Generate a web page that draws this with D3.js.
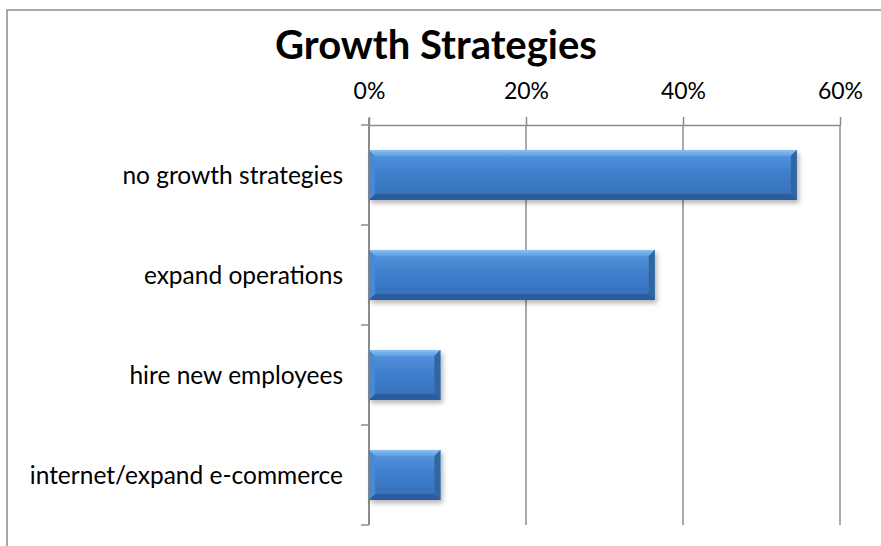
<!DOCTYPE html>
<html>
<head>
<meta charset="utf-8">
<script src="https://cdn.jsdelivr.net/npm/d3@7"></script>
<style>
  html, body { margin: 0; padding: 0; background: #fff; }
  svg { display: block; }
</style>
</head>
<body>
<svg id="chart" width="881" height="546"></svg>
<script>
// Survey results: share of respondents by growth strategy
const categories = ["no growth strategies", "expand operations", "hire new employees", "internet/expand e-commerce"];
const shares = [0.545, 0.364, 0.091, 0.091];
const tickValues = [0, 0.2, 0.4, 0.6];
const chartTitle = "Growth Strategies";

const svg = d3.select("#chart");
const font = "Lato, 'Open Sans', sans-serif";
const axisColor = "#8c8c8c";

// outer frame
svg.append("rect")
  .attr("x", 7).attr("y", 10)
  .attr("width", 900).attr("height", 600)
  .attr("fill", "none").attr("stroke", "#8c8c8c").attr("stroke-width", 1.5);

const x = d3.scaleLinear().domain([0, 0.6]).range([369, 840]);
const y = d3.scaleBand().domain(categories).range([125, 525])
  .paddingInner(0.5).paddingOuter(0.25);

// gradients and shadow for the bevelled bars
const defs = svg.append("defs");
const g1 = defs.append("linearGradient").attr("id", "barFill")
  .attr("x1", 0).attr("y1", 0).attr("x2", 0).attr("y2", 1);
[["0%", "#5a98e0"], ["45%", "#3f7fcc"], ["100%", "#356fb8"]]
  .forEach(([o, c]) => g1.append("stop").attr("offset", o).attr("stop-color", c));
const gTop = defs.append("linearGradient").attr("id", "bevelTop")
  .attr("x1", 0).attr("y1", 0).attr("x2", 0).attr("y2", 1);
[["0%", "#8cc2f4"], ["100%", "#5d9de3"]]
  .forEach(([o, c]) => gTop.append("stop").attr("offset", o).attr("stop-color", c));
const f = defs.append("filter").attr("id", "shadow")
  .attr("x", "-10%").attr("y", "-20%").attr("width", "130%").attr("height", "160%");
f.append("feDropShadow").attr("dx", 2).attr("dy", 3).attr("stdDeviation", 2.5)
  .attr("flood-color", "#000").attr("flood-opacity", 0.3);

// vertical gridlines
svg.append("g").selectAll("line")
  .data(tickValues.slice(1))
  .join("line")
  .attr("x1", d => x(d)).attr("x2", d => x(d))
  .attr("y1", 125).attr("y2", 525)
  .attr("stroke", axisColor).attr("stroke-width", 1.5);

// top value axis
const xAxis = svg.append("g")
  .attr("transform", "translate(0,125)")
  .call(d3.axisTop(x).tickValues(tickValues).tickFormat(d3.format(".0%"))
    .tickSize(8).tickSizeOuter(0).tickPadding(18));
xAxis.select(".domain").attr("stroke", axisColor).attr("stroke-width", 1.5);
xAxis.selectAll(".tick line").attr("stroke", axisColor).attr("stroke-width", 1.5);
xAxis.selectAll("text").attr("font-family", font).attr("font-size", 23).attr("fill", "#000");

// left category axis
const yAxis = svg.append("g")
  .attr("transform", "translate(369,0)");
yAxis.append("line")
  .attr("x1", 0).attr("x2", 0).attr("y1", 118).attr("y2", 525)
  .attr("stroke", axisColor).attr("stroke-width", 2);
const bounds = [125].concat(categories.map(c => y(c) + y.bandwidth() + y.step() * y.paddingInner() / 2));
yAxis.selectAll(".cat-tick")
  .data(bounds)
  .join("line")
  .attr("class", "cat-tick")
  .attr("x1", -8).attr("x2", 0)
  .attr("y1", d => d).attr("y2", d => d)
  .attr("stroke", axisColor).attr("stroke-width", 1.5);
yAxis.selectAll(".cat-label")
  .data(categories)
  .join("text")
  .attr("class", "cat-label")
  .attr("x", -26)
  .attr("y", d => y(d) + y.bandwidth() / 2)
  .attr("dy", "0.35em")
  .attr("text-anchor", "end")
  .attr("font-family", font).attr("font-size", 24.5).attr("fill", "#000")
  .text(d => d);

// bars with bevelled edges
const bev = 6;
const bars = svg.append("g").selectAll("g")
  .data(categories.map((c, i) => ({ c, v: shares[i] })))
  .join("g")
  .attr("filter", "url(#shadow)");
bars.append("rect")
  .attr("x", x(0)).attr("y", d => y(d.c))
  .attr("width", d => x(d.v) - x(0)).attr("height", y.bandwidth())
  .attr("fill", "url(#barFill)");
// top bevel
bars.append("path")
  .attr("d", d => {
    const x0 = x(0), x1 = x(d.v), y0 = y(d.c);
    return `M${x0},${y0}L${x1},${y0}L${x1 - bev},${y0 + bev}L${x0 + bev},${y0 + bev}Z`;
  })
  .attr("fill", "url(#bevelTop)");
// bottom bevel
bars.append("path")
  .attr("d", d => {
    const x0 = x(0), x1 = x(d.v), y1 = y(d.c) + y.bandwidth();
    return `M${x0},${y1}L${x1},${y1}L${x1 - bev},${y1 - bev}L${x0 + bev},${y1 - bev}Z`;
  })
  .attr("fill", "#2c5c9e");
// left bevel
bars.append("path")
  .attr("d", d => {
    const x0 = x(0), y0 = y(d.c), y1 = y0 + y.bandwidth();
    return `M${x0},${y0}L${x0 + bev},${y0 + bev}L${x0 + bev},${y1 - bev}L${x0},${y1}Z`;
  })
  .attr("fill", "#4a89d4");
// right bevel
bars.append("path")
  .attr("d", d => {
    const x1 = x(d.v), y0 = y(d.c), y1 = y0 + y.bandwidth();
    return `M${x1},${y0}L${x1 - bev},${y0 + bev}L${x1 - bev},${y1 - bev}L${x1},${y1}Z`;
  })
  .attr("fill", "#31669f");

// title
svg.append("text")
  .attr("x", 436).attr("y", 59)
  .attr("text-anchor", "middle")
  .attr("font-family", font).attr("font-weight", "bold").attr("font-size", 40)
  .attr("fill", "#000")
  .text(chartTitle);
</script>
</body>
</html>
